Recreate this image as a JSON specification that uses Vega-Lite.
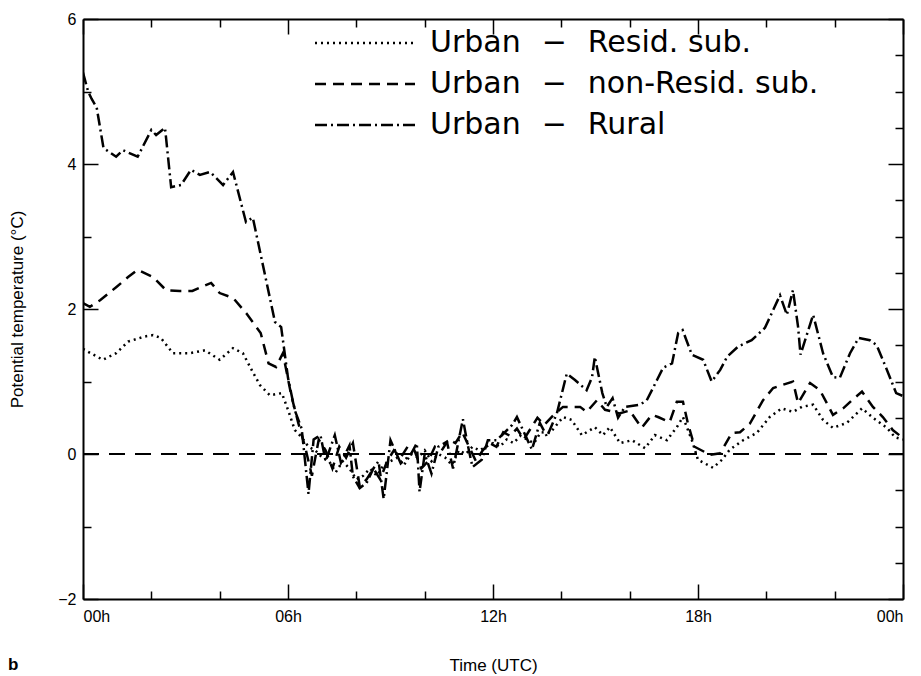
{
  "$schema": "https://vega.github.io/schema/vega-lite/v6.json",
  "width": 820,
  "height": 580,
  "autosize": "none",
  "padding": {"left": 83, "top": 19, "right": 18, "bottom": 77},
  "background": "white",
  "config": {
    "view": {"stroke": null},
    "font": "Liberation Sans",
    "axis": {"grid": false, "domainColor": "black", "domainWidth": 2, "tickColor": "black", "tickWidth": 1.5, "labelColor": "black", "labelFont": "Liberation Sans", "labelFontSize": 16, "titleFont": "Liberation Sans", "titleFontSize": 17, "titleFontWeight": "normal", "titleColor": "black"}
  },
  "title": {"text": "b", "orient": "bottom", "anchor": "start", "frame": "group", "fontWeight": "bold", "fontSize": 17, "font": "Liberation Sans", "color": "black", "dx": -75, "offset": -16},
  "data": {"values": [
    {"s":"C","h":0,"v":5.26},{"s":"C","h":0.15,"v":5.0},{"s":"C","h":0.25,"v":4.9},{"s":"C","h":0.4,"v":4.78},{"s":"C","h":0.6,"v":4.22},{"s":"C","h":0.97,"v":4.1},{"s":"C","h":1.17,"v":4.19},{"s":"C","h":1.6,"v":4.1},{"s":"C","h":2.0,"v":4.47},{"s":"C","h":2.14,"v":4.4},{"s":"C","h":2.4,"v":4.5},{"s":"C","h":2.58,"v":3.68},{"s":"C","h":2.87,"v":3.71},{"s":"C","h":3.16,"v":3.92},{"s":"C","h":3.42,"v":3.85},{"s":"C","h":3.72,"v":3.89},{"s":"C","h":4.1,"v":3.71},{"s":"C","h":4.39,"v":3.89},{"s":"C","h":4.77,"v":3.2},{"s":"C","h":4.97,"v":3.26},{"s":"C","h":5.62,"v":1.82},{"s":"C","h":5.8,"v":1.75},{"s":"C","h":6.0,"v":1.05},{"s":"C","h":6.2,"v":0.6},{"s":"C","h":6.4,"v":0.35},{"s":"C","h":6.6,"v":-0.55},{"s":"C","h":6.75,"v":0.2},{"s":"C","h":6.95,"v":0.26},{"s":"C","h":7.1,"v":-0.1},{"s":"C","h":7.37,"v":0.26},{"s":"C","h":7.55,"v":-0.12},{"s":"C","h":7.8,"v":0.12},{"s":"C","h":7.9,"v":-0.31},{"s":"C","h":8.1,"v":-0.47},{"s":"C","h":8.3,"v":-0.4},{"s":"C","h":8.5,"v":-0.2},{"s":"C","h":8.65,"v":-0.1},{"s":"C","h":8.8,"v":-0.62},{"s":"C","h":9.0,"v":0.19},{"s":"C","h":9.3,"v":-0.13},{"s":"C","h":9.6,"v":0.0},{"s":"C","h":9.77,"v":0.15},{"s":"C","h":9.85,"v":-0.52},{"s":"C","h":10.0,"v":0.0},{"s":"C","h":10.2,"v":-0.27},{"s":"C","h":10.4,"v":0.1},{"s":"C","h":10.65,"v":0.17},{"s":"C","h":10.83,"v":-0.2},{"s":"C","h":11.12,"v":0.48},{"s":"C","h":11.25,"v":0.15},{"s":"C","h":11.4,"v":-0.18},{"s":"C","h":11.67,"v":-0.08},{"s":"C","h":11.85,"v":0.19},{"s":"C","h":12.1,"v":0.19},{"s":"C","h":12.35,"v":0.3},{"s":"C","h":12.56,"v":0.4},{"s":"C","h":12.7,"v":0.51},{"s":"C","h":13.14,"v":0.06},{"s":"C","h":13.37,"v":0.43},{"s":"C","h":13.58,"v":0.24},{"s":"C","h":13.87,"v":0.56},{"s":"C","h":14.16,"v":1.11},{"s":"C","h":14.4,"v":1.02},{"s":"C","h":14.74,"v":0.88},{"s":"C","h":14.9,"v":1.06},{"s":"C","h":14.98,"v":1.34},{"s":"C","h":15.2,"v":0.84},{"s":"C","h":15.33,"v":0.65},{"s":"C","h":15.5,"v":0.77},{"s":"C","h":15.66,"v":0.5},{"s":"C","h":15.86,"v":0.65},{"s":"C","h":16.3,"v":0.68},{"s":"C","h":16.5,"v":0.74},{"s":"C","h":16.8,"v":1.02},{"s":"C","h":16.98,"v":1.19},{"s":"C","h":17.24,"v":1.25},{"s":"C","h":17.42,"v":1.67},{"s":"C","h":17.55,"v":1.71},{"s":"C","h":17.82,"v":1.37},{"s":"C","h":18.15,"v":1.3},{"s":"C","h":18.4,"v":1.0},{"s":"C","h":18.65,"v":1.16},{"s":"C","h":18.85,"v":1.34},{"s":"C","h":19.17,"v":1.48},{"s":"C","h":19.57,"v":1.57},{"s":"C","h":19.96,"v":1.74},{"s":"C","h":20.4,"v":2.19},{"s":"C","h":20.6,"v":1.92},{"s":"C","h":20.78,"v":2.26},{"s":"C","h":20.93,"v":1.75},{"s":"C","h":21.0,"v":1.37},{"s":"C","h":21.37,"v":1.92},{"s":"C","h":21.66,"v":1.39},{"s":"C","h":21.95,"v":1.06},{"s":"C","h":22.15,"v":1.05},{"s":"C","h":22.45,"v":1.39},{"s":"C","h":22.7,"v":1.6},{"s":"C","h":23.03,"v":1.57},{"s":"C","h":23.23,"v":1.5},{"s":"C","h":23.53,"v":1.16},{"s":"C","h":23.8,"v":0.84},{"s":"C","h":24,"v":0.8},
    {"s":"B","h":0,"v":2.08},{"s":"B","h":0.2,"v":2.03},{"s":"B","h":0.5,"v":2.12},{"s":"B","h":0.97,"v":2.3},{"s":"B","h":1.32,"v":2.44},{"s":"B","h":1.6,"v":2.54},{"s":"B","h":2.05,"v":2.44},{"s":"B","h":2.43,"v":2.26},{"s":"B","h":2.83,"v":2.25},{"s":"B","h":3.2,"v":2.25},{"s":"B","h":3.75,"v":2.36},{"s":"B","h":4.0,"v":2.22},{"s":"B","h":4.4,"v":2.15},{"s":"B","h":4.78,"v":1.94},{"s":"B","h":5.2,"v":1.67},{"s":"B","h":5.43,"v":1.25},{"s":"B","h":5.65,"v":1.2},{"s":"B","h":5.85,"v":1.39},{"s":"B","h":6.1,"v":0.8},{"s":"B","h":6.3,"v":0.43},{"s":"B","h":6.5,"v":0.1},{"s":"B","h":6.7,"v":-0.3},{"s":"B","h":6.9,"v":0.2},{"s":"B","h":7.1,"v":0.05},{"s":"B","h":7.3,"v":-0.2},{"s":"B","h":7.5,"v":0.1},{"s":"B","h":7.7,"v":-0.05},{"s":"B","h":7.9,"v":0.15},{"s":"B","h":8.1,"v":-0.45},{"s":"B","h":8.3,"v":-0.35},{"s":"B","h":8.5,"v":-0.2},{"s":"B","h":8.7,"v":-0.35},{"s":"B","h":8.9,"v":-0.1},{"s":"B","h":9.1,"v":0.05},{"s":"B","h":9.3,"v":-0.05},{"s":"B","h":9.5,"v":0.1},{"s":"B","h":9.7,"v":0.05},{"s":"B","h":9.9,"v":-0.2},{"s":"B","h":10.1,"v":-0.1},{"s":"B","h":10.3,"v":0.1},{"s":"B","h":10.5,"v":0.05},{"s":"B","h":10.7,"v":0.2},{"s":"B","h":10.9,"v":0.15},{"s":"B","h":11.1,"v":0.3},{"s":"B","h":11.3,"v":0.1},{"s":"B","h":11.5,"v":-0.1},{"s":"B","h":11.7,"v":0.05},{"s":"B","h":11.9,"v":0.15},{"s":"B","h":12.1,"v":0.1},{"s":"B","h":12.3,"v":0.3},{"s":"B","h":12.5,"v":0.25},{"s":"B","h":12.7,"v":0.35},{"s":"B","h":12.9,"v":0.2},{"s":"B","h":13.1,"v":0.35},{"s":"B","h":13.3,"v":0.5},{"s":"B","h":13.5,"v":0.4},{"s":"B","h":13.8,"v":0.55},{"s":"B","h":14.05,"v":0.65},{"s":"B","h":14.55,"v":0.65},{"s":"B","h":14.74,"v":0.58},{"s":"B","h":15.04,"v":0.74},{"s":"B","h":15.28,"v":0.61},{"s":"B","h":15.7,"v":0.56},{"s":"B","h":16.0,"v":0.6},{"s":"B","h":16.35,"v":0.36},{"s":"B","h":16.65,"v":0.54},{"s":"B","h":16.83,"v":0.51},{"s":"B","h":17.17,"v":0.44},{"s":"B","h":17.38,"v":0.72},{"s":"B","h":17.56,"v":0.72},{"s":"B","h":17.7,"v":0.43},{"s":"B","h":17.9,"v":0.1},{"s":"B","h":18.35,"v":-0.01},{"s":"B","h":18.65,"v":0.01},{"s":"B","h":18.99,"v":0.29},{"s":"B","h":19.23,"v":0.3},{"s":"B","h":19.52,"v":0.42},{"s":"B","h":19.9,"v":0.74},{"s":"B","h":20.2,"v":0.91},{"s":"B","h":20.45,"v":0.95},{"s":"B","h":20.78,"v":1.0},{"s":"B","h":20.93,"v":0.7},{"s":"B","h":21.28,"v":0.98},{"s":"B","h":21.57,"v":0.88},{"s":"B","h":21.95,"v":0.54},{"s":"B","h":22.25,"v":0.63},{"s":"B","h":22.5,"v":0.74},{"s":"B","h":22.8,"v":0.86},{"s":"B","h":23.12,"v":0.65},{"s":"B","h":23.41,"v":0.51},{"s":"B","h":23.7,"v":0.33},{"s":"B","h":24,"v":0.22},
    {"s":"A","h":0,"v":1.45},{"s":"A","h":0.15,"v":1.41},{"s":"A","h":0.58,"v":1.3},{"s":"A","h":0.97,"v":1.39},{"s":"A","h":1.32,"v":1.55},{"s":"A","h":1.8,"v":1.62},{"s":"A","h":2.05,"v":1.64},{"s":"A","h":2.28,"v":1.6},{"s":"A","h":2.63,"v":1.39},{"s":"A","h":3.12,"v":1.39},{"s":"A","h":3.57,"v":1.43},{"s":"A","h":4.0,"v":1.3},{"s":"A","h":4.39,"v":1.46},{"s":"A","h":4.68,"v":1.39},{"s":"A","h":4.98,"v":1.12},{"s":"A","h":5.18,"v":0.95},{"s":"A","h":5.47,"v":0.81},{"s":"A","h":5.82,"v":0.84},{"s":"A","h":6.0,"v":0.61},{"s":"A","h":6.2,"v":0.33},{"s":"A","h":6.4,"v":0.23},{"s":"A","h":6.6,"v":0.1},{"s":"A","h":6.8,"v":0.05},{"s":"A","h":7.0,"v":-0.05},{"s":"A","h":7.2,"v":-0.1},{"s":"A","h":7.4,"v":-0.25},{"s":"A","h":7.6,"v":-0.1},{"s":"A","h":7.8,"v":-0.2},{"s":"A","h":8.0,"v":-0.35},{"s":"A","h":8.2,"v":-0.3},{"s":"A","h":8.4,"v":-0.2},{"s":"A","h":8.6,"v":-0.3},{"s":"A","h":8.8,"v":-0.15},{"s":"A","h":9.0,"v":-0.1},{"s":"A","h":9.2,"v":-0.05},{"s":"A","h":9.4,"v":-0.15},{"s":"A","h":9.6,"v":0.0},{"s":"A","h":9.8,"v":-0.05},{"s":"A","h":10.0,"v":0.05},{"s":"A","h":10.2,"v":-0.1},{"s":"A","h":10.4,"v":0.0},{"s":"A","h":10.6,"v":-0.05},{"s":"A","h":10.8,"v":-0.15},{"s":"A","h":11.0,"v":0.05},{"s":"A","h":11.2,"v":0.0},{"s":"A","h":11.4,"v":0.1},{"s":"A","h":11.6,"v":0.05},{"s":"A","h":11.8,"v":0.1},{"s":"A","h":12.0,"v":0.15},{"s":"A","h":12.2,"v":0.1},{"s":"A","h":12.4,"v":0.2},{"s":"A","h":12.6,"v":0.15},{"s":"A","h":12.8,"v":0.25},{"s":"A","h":13.0,"v":0.2},{"s":"A","h":13.2,"v":0.15},{"s":"A","h":13.4,"v":0.3},{"s":"A","h":13.67,"v":0.29},{"s":"A","h":14.05,"v":0.51},{"s":"A","h":14.3,"v":0.47},{"s":"A","h":14.6,"v":0.26},{"s":"A","h":14.98,"v":0.37},{"s":"A","h":15.22,"v":0.26},{"s":"A","h":15.42,"v":0.37},{"s":"A","h":15.72,"v":0.15},{"s":"A","h":16.07,"v":0.19},{"s":"A","h":16.45,"v":0.08},{"s":"A","h":16.74,"v":0.26},{"s":"A","h":17.09,"v":0.19},{"s":"A","h":17.38,"v":0.37},{"s":"A","h":17.56,"v":0.51},{"s":"A","h":17.82,"v":0.19},{"s":"A","h":18.0,"v":-0.08},{"s":"A","h":18.44,"v":-0.19},{"s":"A","h":18.7,"v":-0.08},{"s":"A","h":18.93,"v":0.06},{"s":"A","h":19.32,"v":0.19},{"s":"A","h":19.72,"v":0.29},{"s":"A","h":20.1,"v":0.51},{"s":"A","h":20.45,"v":0.63},{"s":"A","h":20.78,"v":0.58},{"s":"A","h":21.04,"v":0.65},{"s":"A","h":21.37,"v":0.68},{"s":"A","h":21.66,"v":0.47},{"s":"A","h":21.95,"v":0.36},{"s":"A","h":22.36,"v":0.43},{"s":"A","h":22.8,"v":0.63},{"s":"A","h":23.12,"v":0.5},{"s":"A","h":23.53,"v":0.36},{"s":"A","h":23.77,"v":0.23},{"s":"A","h":24,"v":0.2}
  ]},
  "layer": [
    {
      "mark": {"type": "line", "color": "black", "strokeWidth": 2.5, "clip": true},
      "encoding": {
        "x": {"field": "h", "type": "quantitative", "scale": {"domain": [0, 24], "nice": false, "zero": false},
          "axis": {"orient": "bottom", "title": "Time (UTC)", "titlePadding": 33, "values": [0,2,4,6,8,10,12,14,16,18,20,22,24],
            "labelExpr": "datum.value % 6 == 0 ? ((datum.value % 24) < 10 ? '0' : '') + (datum.value % 24) + 'h' : ''",
            "tickSize": {"condition": {"test": "datum.value % 6 == 0", "value": -15}, "value": -8}, "labelPadding": 24}},
        "y": {"field": "v", "type": "quantitative", "scale": {"domain": [-2, 6], "nice": false, "zero": false},
          "axis": {"orient": "left", "title": "Potential temperature (°C)", "titlePadding": 31, "format": "d", "values": [-2,-1.5,-1,-0.5,0,0.5,1,1.5,2,2.5,3,3.5,4,4.5,5,5.5,6],
            "labelExpr": "datum.value % 2 == 0 ? datum.label : ''",
            "tickSize": {"condition": {"test": "datum.value % 2 == 0", "value": -15}, "value": -8}, "labelPadding": 22}},
        "strokeDash": {"field": "s", "type": "nominal",
          "scale": {"domain": ["A", "B", "C"], "range": [[2, 4], [11, 7], [12, 4, 2, 4]]},
          "legend": {"orient": "none", "legendX": 267, "legendY": 9, "title": null, "symbolType": "M-5,0H5", "symbolSize": 400, "symbolStrokeWidth": 2.5, "symbolStrokeColor": "black", "symbolFillColor": "transparent",
            "labelFont": "DejaVu Sans", "labelFontSize": 30, "labelColor": "black", "labelOffset": 50, "rowPadding": 11, "labelLimit": 0,
            "labelExpr": "datum.label == 'A' ? 'Urban\u2002\u2009\u2212\u2002\u2009Resid. sub.' : datum.label == 'B' ? 'Urban\u2002\u2009\u2212\u2002\u2009non-Resid. sub.' : 'Urban\u2002\u2009\u2212\u2002\u2009Rural'"}}
      }
    },
    {
      "mark": {"type": "rule", "color": "black", "strokeWidth": 1.5, "strokeDash": [16, 10]},
      "encoding": {
        "x": {"datum": 0, "type": "quantitative", "axis": {"orient": "top", "title": null, "labels": false, "values": [0,2,4,6,8,10,12,14,16,18,20,22,24],
          "tickSize": {"condition": {"test": "datum.value % 6 == 0", "value": -15}, "value": -8}}},
        "x2": {"datum": 24},
        "y": {"datum": 0, "type": "quantitative", "axis": {"orient": "right", "title": null, "labels": false, "values": [-2,-1.5,-1,-0.5,0,0.5,1,1.5,2,2.5,3,3.5,4,4.5,5,5.5,6],
          "tickSize": {"condition": {"test": "datum.value % 2 == 0", "value": -15}, "value": -8}}}
      }
    }
  ],
  "resolve": {"axis": {"x": "independent", "y": "independent"}}
}
